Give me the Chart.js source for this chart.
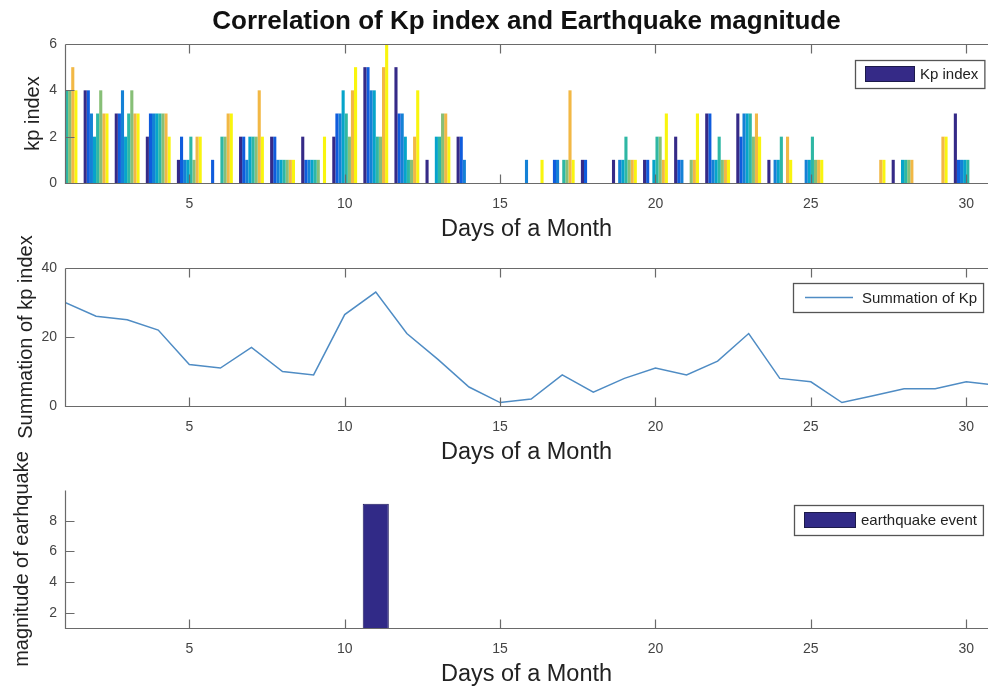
<!DOCTYPE html>
<html><head><meta charset="utf-8">
<script src="https://cdn.jsdelivr.net/npm/chart.js@4.4.1/dist/chart.umd.min.js"></script>
<style>
html,body{margin:0;padding:0;background:#fff;width:988px;height:690px;overflow:hidden;}
canvas{position:absolute;left:0;display:block;background:transparent;}
</style></head><body>
<canvas id="c1" width="988" height="250" style="top:0px"></canvas>
<canvas id="c2" width="988" height="270" style="top:200px"></canvas>
<canvas id="c3" width="988" height="260" style="top:430px"></canvas>
<script>
// ---- data ----
const days = [1,2,3,4,5,6,7,8,9,10,11,12,13,14,15,16,17,18,19,20,21,22,23,24,25,26,27,28,29,30,31];
// 3-hourly Kp values (8 intervals per day)
const kp00 = [3,4,3,2,1,0,2,2,2,2,5,5,1,2,0,0,0,1,1,1,2,3,3,1,0,0,0,1,0,3,0];
const kp03 = [3,4,3,3,2,1,2,2,1,3,5,3,0,2,0,0,1,1,0,1,1,3,2,0,0,0,0,0,0,1,1];
const kp06 = [3,3,4,3,1,0,1,1,1,3,4,3,0,1,0,1,1,0,1,0,1,1,3,1,1,0,0,0,0,1,1];
const kp09 = [4,2,2,3,1,0,2,1,1,4,4,2,2,0,0,0,0,0,1,1,0,1,3,1,1,0,0,1,0,1,1];
const kp12 = [4,3,3,3,2,2,2,1,1,3,2,1,2,0,0,0,1,0,2,2,0,2,3,2,2,0,0,1,0,1,1];
const kp15 = [4,4,4,3,1,2,2,1,1,2,2,1,3,0,0,0,1,0,1,2,1,1,2,0,1,0,0,1,0,0,1];
const kp18 = [5,3,3,3,2,3,4,1,0,4,5,2,3,0,0,0,4,0,1,1,1,1,3,2,1,0,1,1,2,0,1];
const kp21 = [4,3,3,2,2,3,2,1,2,5,6,4,2,0,0,1,1,0,1,3,3,1,2,1,1,0,1,0,2,0,0];
const kpSum = [30,26,25,22,12,11,17,10,9,26.5,33,21,13.5,5.5,1,2,9,4,8,11,9,13,21,8,7,1,3,5,5,7,6];
const quakeMag = [null,null,null,null,null,null,null,null,null,null,9.1,null,null,null,null,null,null,null,null,null,null,null,null,null,null,null,null,null,null,null,null];
const xTicks = [5,10,15,20,25,30];
const kpTicks = [0,2,4,6];
const sumTicks = [0,20,40];
const magTicks = [2,4,6,8];

// ---- styling ----
const F = "'Liberation Sans', Arial, Helvetica, sans-serif";
const kpColors = ['#352a87','#0f5cdd','#1481d6','#06a4ca','#2eb7a4','#87bf77','#f2b845','#f9f50e'];
const AX = '#6a6a6a';

const matlabAxes = {
  id: 'matlabAxes',
  afterDraw(chart, args, o) {
    const {ctx, chartArea: a, scales: {x, y}} = chart;
    ctx.save();
    ctx.strokeStyle = o.color; ctx.lineWidth = 1.2;
    const L = Math.round(a.left) + 0.5, B = Math.round(a.bottom) + 0.5, T = Math.round(a.top) + 0.5, R = a.right;
    ctx.beginPath();
    ctx.moveTo(L, T); ctx.lineTo(L, B); ctx.lineTo(R, B);
    if (o.box) { ctx.moveTo(L, T); ctx.lineTo(R, T); }
    const len = o.tickLen;
    x.ticks.forEach(t => {
      const px = Math.round(x.getPixelForValue(t.value)) + 0.5;
      ctx.moveTo(px, B); ctx.lineTo(px, B - len);
      if (o.box) { ctx.moveTo(px, T); ctx.lineTo(px, T + len); }
    });
    y.ticks.forEach(t => {
      const py = Math.round(y.getPixelForValue(t.value)) + 0.5;
      ctx.moveTo(L, py); ctx.lineTo(L + len, py);
    });
    ctx.stroke();
    ctx.restore();
  }
};

const boxLegend = {
  id: 'boxLegend',
  afterDraw(chart, args, o) {
    const ds = chart.data.datasets[0];
    const {ctx, chartArea: a} = chart;
    ctx.save();
    ctx.font = '15px ' + F;
    const tw = ctx.measureText(ds.label).width;
    const w = o.padL + o.sampleW + o.gap + tw + o.padR;
    const x0 = Math.round(a.right - o.right - w), y0 = Math.round(a.top + o.top);
    ctx.fillStyle = '#fff'; ctx.fillRect(x0, y0, w, o.h);
    ctx.strokeStyle = '#555'; ctx.lineWidth = 1.3; ctx.strokeRect(x0 + 0.5, y0 + 0.5, w, o.h);
    const cy = y0 + o.h / 2;
    const sx = x0 + o.padL;
    if (o.kind === 'line') {
      ctx.strokeStyle = ds.borderColor; ctx.lineWidth = ds.borderWidth;
      ctx.beginPath(); ctx.moveTo(sx, cy); ctx.lineTo(sx + o.sampleW, cy); ctx.stroke();
    } else {
      ctx.fillStyle = ds.backgroundColor;
      ctx.fillRect(sx, cy - o.sampleH / 2, o.sampleW, o.sampleH);
      ctx.strokeStyle = '#1c1a4a'; ctx.lineWidth = 1;
      ctx.strokeRect(sx + 0.5, cy - o.sampleH / 2 + 0.5, o.sampleW - 1, o.sampleH - 1);
    }
    ctx.fillStyle = '#222'; ctx.textBaseline = 'middle'; ctx.textAlign = 'left';
    ctx.fillText(ds.label, sx + o.sampleW + o.gap, cy + 1);
    ctx.restore();
  }
};

function xScale(height, padBottom) {
  return {
    type: 'linear', min: 1, max: 30.7, offset: false,
    grid: {display: false, drawTicks: false}, border: {display: false},
    afterBuildTicks: s => { s.ticks = xTicks.map(v => ({value: v})); },
    afterFit: s => { s.height = height; },
    ticks: {padding: 13, font: {family: F, size: 14}, color: '#444', maxRotation: 0, autoSkip: false},
    title: {display: true, text: 'Days of a Month', font: {family: F, size: 23.5}, color: '#222', padding: {top: 0, bottom: padBottom}}
  };
}
function yScale(min, max, tickVals, label, titlePad) {
  return {
    type: 'linear', min: min, max: max,
    grid: {display: false, drawTicks: false}, border: {display: false},
    afterBuildTicks: s => { s.ticks = tickVals.map(v => ({value: v})); },
    afterFit: s => { s.width = 65; },
    ticks: {padding: 8, font: {family: F, size: 14}, color: '#444'},
    title: {display: true, text: label, font: {family: F, size: 20}, color: '#222', padding: {top: titlePad, bottom: 0}}
  };
}
const base = {responsive: false, animation: false, devicePixelRatio: 1};

// ---- chart 1: Kp bars ----
const kpSeries = [kp00, kp03, kp06, kp09, kp12, kp15, kp18, kp21];
new Chart(document.getElementById('c1'), {
  type: 'bar',
  data: {
    datasets: kpSeries.map((arr, i) => ({
      label: 'Kp index',
      data: days.map((d, j) => ({x: d, y: arr[j]})),
      backgroundColor: kpColors[i], borderWidth: 0,
      categoryPercentage: 0.8, barPercentage: 1.0
    }))
  },
  options: Object.assign({}, base, {
    layout: {padding: {left: 0, right: 0, top: 0, bottom: 0}},
    plugins: {
      legend: {display: false}, tooltip: {enabled: false},
      title: {display: true, text: 'Correlation of Kp index and Earthquake magnitude', fullSize: false,
        font: {family: F, size: 26, weight: 'bold'}, color: '#111', padding: {top: 6, bottom: 6.8}},
      matlabAxes: {box: true, tickLen: 9, color: AX},
      boxLegend: {kind: 'bar', right: 4, top: 16, h: 28, padL: 10, sampleW: 50, sampleH: 16, gap: 5, padR: 6}
    },
    scales: {x: xScale(67, 5.9), y: yScale(0, 6, kpTicks, 'kp index', 21)}
  }),
  plugins: [matlabAxes, boxLegend]
});

// ---- chart 2: summation line ----
new Chart(document.getElementById('c2'), {
  type: 'line',
  data: {
    datasets: [{
      label: 'Summation of Kp',
      data: days.map((d, i) => ({x: d, y: kpSum[i]})),
      borderColor: '#4f8cc4', borderWidth: 1.5, pointRadius: 0, tension: 0, fill: false
    }]
  },
  options: Object.assign({}, base, {
    layout: {padding: {left: 0, right: 0, top: 68, bottom: 0}},
    plugins: {
      legend: {display: false}, tooltip: {enabled: false},
      matlabAxes: {box: true, tickLen: 9, color: AX},
      boxLegend: {kind: 'line', right: 5, top: 15, h: 29, padL: 12, sampleW: 48, sampleH: 0, gap: 9, padR: 6}
    },
    scales: {x: xScale(64, 2.9), y: yScale(0, 40, sumTicks, 'Summation of kp index', 14)}
  }),
  plugins: [matlabAxes, boxLegend]
});

// ---- chart 3: earthquake magnitude ----
new Chart(document.getElementById('c3'), {
  type: 'bar',
  data: {
    datasets: [{
      label: 'earthquake event',
      data: days.map((d, i) => ({x: d, y: quakeMag[i]})),
      backgroundColor: '#312a87', borderColor: '#1f1b5e', borderWidth: 1,
      categoryPercentage: 1.0, barPercentage: 0.84
    }]
  },
  options: Object.assign({}, base, {
    layout: {padding: {left: 0, right: 0, top: 60, bottom: 0}},
    plugins: {
      legend: {display: false}, tooltip: {enabled: false},
      matlabAxes: {box: false, tickLen: 9, color: AX},
      boxLegend: {kind: 'bar', right: 5, top: 15, h: 30, padL: 10, sampleW: 52, sampleH: 16, gap: 5, padR: 6}
    },
    scales: {x: xScale(62, 0.9), y: yScale(1, 10, magTicks, 'magnitude of earhquake', 10)}
  }),
  plugins: [matlabAxes, boxLegend]
});
</script>
</body></html>
